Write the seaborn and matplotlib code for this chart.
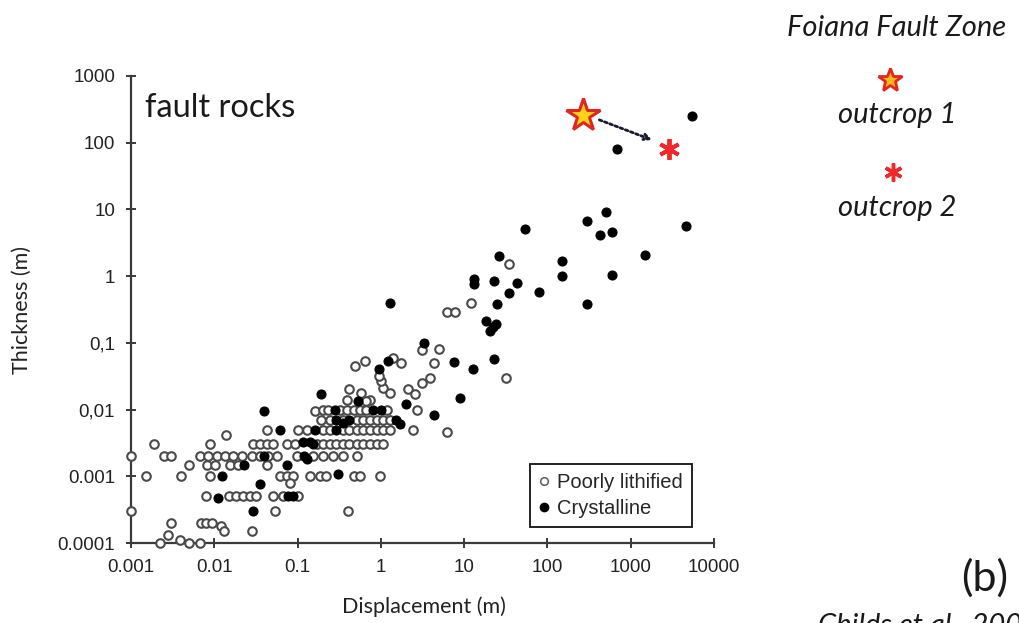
import matplotlib
matplotlib.use("Agg")
import matplotlib.pyplot as plt
from matplotlib.lines import Line2D
from matplotlib.ticker import NullLocator
import pandas as pd
import seaborn as sns

# Displacement vs thickness of fault rocks (values in metres)
lithified = [
    # sparse small faults
    (0.001, 0.002), (0.001, 0.0003), (0.0015, 0.001), (0.0019, 0.003), (0.0025, 0.002),
    (0.003, 0.002), (0.004, 0.001), (0.005, 0.0015), (0.009, 0.003), (0.014, 0.0042),
    (0.003, 0.0002), (0.0022, 0.0001), (0.0028, 0.00013), (0.0039, 0.00011), (0.005, 0.0001),
    (0.0067, 0.0001), (0.007, 0.0002), (0.008, 0.0002), (0.0095, 0.0002), (0.012, 0.00018),
    (0.013, 0.00015), (0.028, 0.00015), (0.054, 0.0003), (0.4, 0.0003),
    # thickness 0.0005
    (0.008, 0.0005), (0.015, 0.0005), (0.018, 0.0005), (0.022, 0.0005), (0.027, 0.0005),
    (0.032, 0.0005), (0.051, 0.0005), (0.067, 0.0005), (0.10, 0.0005),
    # thickness 0.001
    (0.009, 0.001), (0.062, 0.001), (0.074, 0.001), (0.089, 0.001), (0.14, 0.001),
    (0.186, 0.001), (0.22, 0.001), (0.47, 0.001), (0.56, 0.001), (0.97, 0.001), (0.08, 0.0008),
    # thickness 0.0015
    (0.0082, 0.0015), (0.0102, 0.0015), (0.0154, 0.0015), (0.0194, 0.0015), (0.043, 0.0015),
    # thickness 0.002
    (0.0067, 0.002), (0.0084, 0.002), (0.0107, 0.002), (0.0134, 0.002), (0.0169, 0.002),
    (0.0213, 0.002), (0.028, 0.002), (0.035, 0.002), (0.044, 0.002), (0.056, 0.002),
    (0.098, 0.002), (0.154, 0.002), (0.20, 0.002), (0.27, 0.002), (0.35, 0.002), (0.51, 0.002),
    # thickness 0.003
    (0.029, 0.003), (0.035, 0.003), (0.043, 0.003), (0.051, 0.003), (0.074, 0.003),
    (0.093, 0.003), (0.17, 0.003), (0.20, 0.003), (0.245, 0.003), (0.29, 0.003), (0.35, 0.003),
    (0.42, 0.003), (0.51, 0.003), (0.61, 0.003), (0.74, 0.003), (0.89, 0.003), (1.06, 0.003),
    # thickness 0.005
    (0.043, 0.005), (0.10, 0.005), (0.128, 0.005), (0.20, 0.005), (0.245, 0.005), (0.35, 0.005),
    (0.42, 0.005), (0.51, 0.005), (0.61, 0.005), (0.74, 0.005), (0.89, 0.005), (1.06, 0.005),
    (1.28, 0.005), (2.4, 0.005), (6.2, 0.0046),
    # thickness 0.007
    (0.19, 0.007), (0.245, 0.007), (0.35, 0.007), (0.51, 0.007), (0.61, 0.007), (0.74, 0.007),
    (0.89, 0.007), (1.06, 0.007), (1.28, 0.007),
    # thickness 0.01
    (0.16, 0.0094), (0.20, 0.01), (0.23, 0.01), (0.32, 0.01), (0.39, 0.01), (0.47, 0.01),
    (0.56, 0.01), (0.67, 0.01), (1.17, 0.01), (2.7, 0.01),
    # thickness 0.013 - 0.03
    (0.39, 0.014), (0.74, 0.014), (0.67, 0.0133), (0.41, 0.02), (0.58, 0.018), (1.06, 0.021),
    (1.3, 0.018), (2.1, 0.02), (2.6, 0.017), (1.0, 0.027), (0.94, 0.032), (3.1, 0.025),
    (3.9, 0.03), (32, 0.03),
    # thicker zones
    (0.49, 0.045), (0.65, 0.053), (1.4, 0.06), (1.75, 0.05), (4.4, 0.05), (3.1, 0.079),
    (5.0, 0.08), (12, 0.39), (6.3, 0.29), (7.8, 0.29), (35, 1.5),
]

crystalline = [
    (5500, 250), (680, 80), (500, 9.2), (300, 6.7), (430, 4.2), (590, 4.6), (4600, 5.7),
    (54, 5.1), (26, 2.0), (1500, 2.1), (150, 1.7), (150, 1.0), (600, 1.05), (300, 0.38),
    (13, 0.9), (13, 0.75), (23, 0.86), (43, 0.78), (35, 0.55), (80, 0.58), (25, 0.38),
    (18.5, 0.21), (24, 0.19), (20.5, 0.15), (22, 0.17), (1.3, 0.4), (3.3, 0.1), (7.5, 0.052),
    (12.7, 0.04), (23, 0.057), (9, 0.015), (4.3, 0.0084), (2.0, 0.012), (1.7, 0.006),
    (1.23, 0.053), (0.96, 0.04), (0.19, 0.017), (0.53, 0.0133), (0.28, 0.01), (0.81, 0.01),
    (1.0, 0.01), (0.29, 0.007), (0.42, 0.007), (1.54, 0.007), (0.16, 0.005), (0.29, 0.005),
    (0.117, 0.0033), (0.14, 0.0033), (0.154, 0.003), (0.12, 0.002), (0.128, 0.0018),
    (0.074, 0.0015), (0.061, 0.005), (0.039, 0.0094), (0.039, 0.002), (0.0227, 0.0015),
    (0.0123, 0.001), (0.011, 0.00048), (0.029, 0.0003), (0.035, 0.00077), (0.31, 0.0011),
    (0.077, 0.0005), (0.089, 0.0005), (0.35, 0.0064),
]

# Foiana Fault Zone measurements
outcrop1 = (270, 260)
outcrop2 = (2900, 80)

x_ticks = [0.001, 0.01, 0.1, 1, 10, 100, 1000, 10000]
x_tick_labels = ["0.001", "0.01", "0.1", "1", "10", "100", "1000", "10000"]
y_ticks = [0.0001, 0.001, 0.01, 0.1, 1, 10, 100, 1000]
y_tick_labels = ["0.0001", "0.001", "0,01", "0,1", "1", "10", "100", "1000"]

sns.set_style("ticks")
plt.rcParams["font.family"] = ["Lato", "DejaVu Sans"]
ARIAL = ["Liberation Sans Narrow", "Liberation Sans", "DejaVu Sans"]

W, H = 1019, 623
fig = plt.figure(figsize=(W / 100, H / 100), dpi=100)
ax = fig.add_axes([131 / W, 80 / H, 583 / W, 467 / H])

df_l = pd.DataFrame(lithified, columns=["disp", "thick"])
df_c = pd.DataFrame(crystalline, columns=["disp", "thick"])

sns.scatterplot(data=df_l, x="disp", y="thick", ax=ax, marker="o", s=38,
                color="white", edgecolor="#4a4a4a", linewidth=1.5,
                zorder=3, clip_on=False, legend=False)
sns.scatterplot(data=df_c, x="disp", y="thick", ax=ax, marker="o", s=42,
                color="black", edgecolor="black", linewidth=0.8,
                zorder=4, clip_on=False, legend=False)

ax.set_xscale("log")
ax.set_yscale("log")
ax.set_xlim(0.001, 10000)
ax.set_ylim(0.0001, 1000)
ax.set_xticks(x_ticks, labels=x_tick_labels, fontfamily="Liberation Sans", fontsize=13.5)
ax.set_yticks(y_ticks, labels=y_tick_labels, fontfamily="Liberation Sans", fontsize=13.5)
ax.xaxis.set_minor_locator(NullLocator())
ax.yaxis.set_minor_locator(NullLocator())
ax.tick_params(axis="both", direction="inout", length=7, width=1.4, color="#3a3a3a",
               labelcolor="#222222")
ax.tick_params(axis="x", pad=8)
ax.tick_params(axis="y", pad=8)
for side in ("top", "right"):
    ax.spines[side].set_visible(False)
for side in ("left", "bottom"):
    ax.spines[side].set_color("#3a3a3a")
    ax.spines[side].set_linewidth(1.6)

ax.set_xlabel("Displacement (m)", fontsize=15.5, color="#222222")
ax.set_ylabel("Thickness (m)", fontsize=15.5, color="#222222")
ax.xaxis.label.set(va="center", ha="center")
ax.yaxis.label.set(va="center", ha="center")
ax.xaxis.set_label_coords(0.5026, -0.137)
ax.yaxis.set_label_coords(-0.187, 0.5)

ax.text(0.024, 0.9315, "fault rocks", transform=ax.transAxes, fontsize=23.5,
        va="center", ha="left", color="#1a1a1a")

# Foiana outcrops and the shift between them
ax.annotate("", xy=(1800, 110), xytext=(420, 220),
            arrowprops=dict(arrowstyle="->", linestyle=(0, (1.0, 1.0)), lw=2.0,
                            color="#1a1a30", shrinkA=0, shrinkB=0), zorder=5)
ax.plot([outcrop1[0]], [outcrop1[1]], marker="*", ms=25, mfc="#FFD21A", mec="#E0261E",
        mew=2.2, ls="none", zorder=6, clip_on=False)
ax.plot([outcrop2[0]], [outcrop2[1]], marker=(6, 2, 0), ms=15, mec="#F0282C",
        mew=2.8, ls="none", zorder=6, clip_on=False)

handles = [
    Line2D([], [], marker="o", ls="none", mfc="white", mec="#5c5c5c", ms=5.5, mew=1.1),
    Line2D([], [], marker="o", ls="none", mfc="black", mec="black", ms=6),
]
leg = ax.legend(handles, ["Poorly lithified", "Crystalline"], loc="lower left",
                bbox_to_anchor=(0.684, 0.034), frameon=True, fancybox=False,
                edgecolor="#222222", framealpha=1,
                prop={"family": ARIAL, "size": 14.5},
                handlelength=0.5, handletextpad=0.4, borderpad=0.45,
                labelspacing=0.35, borderaxespad=0)
leg.get_frame().set_linewidth(1.4)

# Side key
fig.text(897 / W, 1 - 28 / H, "Foiana Fault Zone", ha="center", va="center",
         fontsize=21, style="italic", color="#1a1a1a")
fig.add_artist(Line2D([890 / W], [1 - 80 / H], transform=fig.transFigure, marker="*",
                      ms=18, mfc="#FFB81A", mec="#E0261E", mew=2.0, ls="none"))
fig.text(897 / W, 1 - 115 / H, "outcrop 1", ha="center", va="center",
         fontsize=21, style="italic", color="#1a1a1a")
fig.add_artist(Line2D([893 / W], [1 - 172 / H], transform=fig.transFigure,
                      marker=(6, 2, 0), ms=13, mec="#F0282C", mew=2.5, ls="none"))
fig.text(897 / W, 1 - 208 / H, "outcrop 2", ha="center", va="center",
         fontsize=21, style="italic", color="#1a1a1a")

fig.text(985 / W, 1 - 578 / H, "(b)", ha="center", va="center", fontsize=31,
         color="#1a1a1a")
fig.text(818 / W, 1 - 612 / H, "Childs et al., 2009", ha="left", va="top",
         fontsize=21, style="italic", color="#1a1a1a")

fig.savefig("out.png", dpi=100)
